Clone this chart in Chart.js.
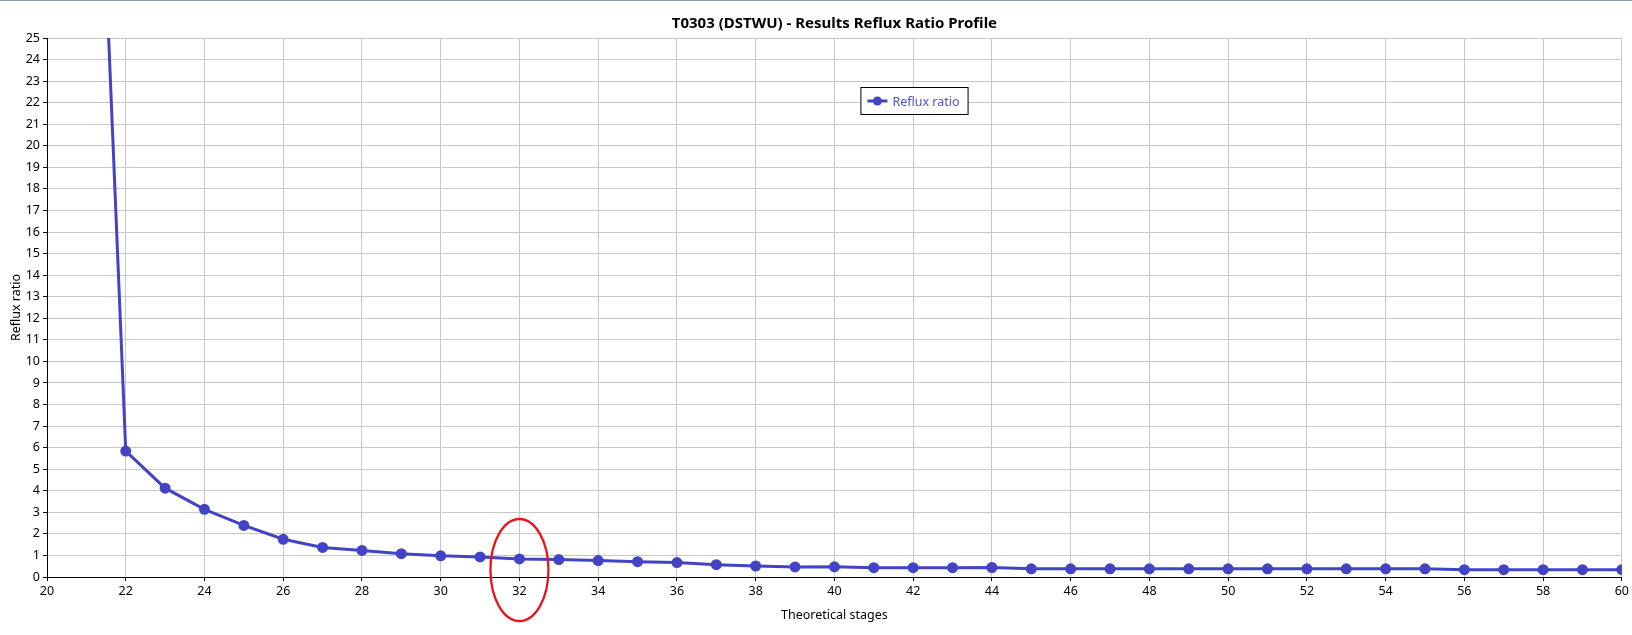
<!DOCTYPE html>
<html>
<head>
<meta charset="utf-8">
<script src="https://cdn.jsdelivr.net/npm/chart.js@4"></script>
<style>
  html, body { margin: 0; padding: 0; background: #fff; }
  #wrap { width: 1632px; height: 634px; border-top: 1px solid #8e9aab; }
</style>
</head>
<body>
<div id="wrap"><canvas id="myChart" width="1632" height="634"></canvas></div>
<script>
const ctx = document.getElementById('myChart');

const stages = [21, 22, 23, 24, 25, 26, 27, 28, 29, 30,
  31, 32, 33, 34, 35, 36, 37, 38, 39, 40,
  41, 42, 43, 44, 45, 46, 47, 48, 49, 50,
  51, 52, 53, 54, 55, 56, 57, 58, 59, 60];
const refluxRatio = [50, 5.84, 4.12, 3.14, 2.39, 1.75, 1.37, 1.23, 1.08, 0.98,
  0.93, 0.84, 0.81, 0.76, 0.71, 0.67, 0.57, 0.51, 0.465, 0.47,
  0.43, 0.43, 0.43, 0.44, 0.38, 0.38, 0.38, 0.38, 0.38, 0.38,
  0.38, 0.38, 0.38, 0.38, 0.38, 0.34, 0.34, 0.34, 0.34, 0.34];
const markedStage = 32;

const chartTitle = 'T0303 (DSTWU) - Results Reflux Ratio Profile';
const seriesLabel = 'Reflux ratio';
const lineColor = '#4343c6';
const font = 'Noto Sans';

// title centred over the plot, legend box and the red ring round stage 32
const extras = {
  id: 'extras',
  afterDraw(chart) {
    const c = chart.ctx;
    const area = chart.chartArea;
    const x = chart.scales.x, y = chart.scales.y;

    c.save();
    c.fillStyle = '#000';
    c.font = 'bold 15px "' + font + '"';
    c.textAlign = 'center';
    c.textBaseline = 'middle';
    c.fillText(chartTitle, (area.left + area.right) / 2, 23);

    // legend
    const lx = area.left + (area.right - area.left) * 0.5165;
    const ly = 86;
    c.font = '12.5px "' + font + '"';
    const w = c.measureText(seriesLabel).width + 40;
    c.fillStyle = '#fff';
    c.fillRect(lx, ly, w, 27);
    c.strokeStyle = '#000';
    c.lineWidth = 1;
    c.strokeRect(lx + 0.5, ly + 0.5, w, 27);
    c.strokeStyle = lineColor;
    c.lineWidth = 3;
    c.beginPath();
    c.moveTo(lx + 7, ly + 14);
    c.lineTo(lx + 27, ly + 14);
    c.stroke();
    c.fillStyle = lineColor;
    c.beginPath();
    c.arc(lx + 17, ly + 14, 4.5, 0, Math.PI * 2);
    c.fill();
    c.fillStyle = '#4f4fd0';
    c.textAlign = 'left';
    c.fillText(seriesLabel, lx + 32, ly + 15);

    // ring
    c.strokeStyle = '#e8141c';
    c.lineWidth = 2.3;
    c.beginPath();
    c.ellipse(x.getPixelForValue(markedStage), y.getPixelForValue(0) - 7, 29, 51, 0, 0, Math.PI * 2);
    c.stroke();
    c.restore();
  }
};

new Chart(ctx, {
  type: 'line',
  data: {
    datasets: [{
      label: seriesLabel,
      data: stages.map((s, i) => ({ x: s, y: refluxRatio[i] })),
      borderColor: lineColor,
      backgroundColor: lineColor,
      borderWidth: 3,
      pointRadius: 4,
      pointHoverRadius: 4,
      tension: 0
    }]
  },
  options: {
    responsive: false,
    animation: false,
    devicePixelRatio: 1,
    layout: { padding: { top: 37, right: 5, left: 0, bottom: 0 } },
    plugins: {
      legend: { display: false },
      title: { display: false },
      tooltip: { enabled: false }
    },
    scales: {
      x: {
        type: 'linear',
        min: 20,
        max: 60,
        afterFit: function(scale) { scale.height = 58; },
        ticks: {
          stepSize: 2,
          padding: 3,
          color: '#000',
          font: { family: font, size: 12.5 }
        },
        grid: { color: '#c8c8c8', tickColor: '#000', tickLength: 4 },
        border: { color: '#000', width: 1 },
        title: {
          display: true,
          text: 'Theoretical stages',
          color: '#000',
          font: { family: font, size: 12.5 },
          padding: { top: 0, bottom: 12 }
        }
      },
      y: {
        min: 0,
        max: 25,
        afterFit: function(scale) { scale.width = 47; },
        ticks: {
          stepSize: 1,
          padding: 3,
          color: '#000',
          font: { family: font, size: 12.5 }
        },
        grid: { color: '#c8c8c8', tickColor: '#000', tickLength: 4 },
        border: { color: '#000', width: 1 },
        title: {
          display: true,
          text: 'Reflux ratio',
          color: '#000',
          font: { family: font, size: 12.5 },
          padding: { top: 9, bottom: 0 }
        }
      }
    }
  },
  plugins: [extras]
});
</script>
</body>
</html>
